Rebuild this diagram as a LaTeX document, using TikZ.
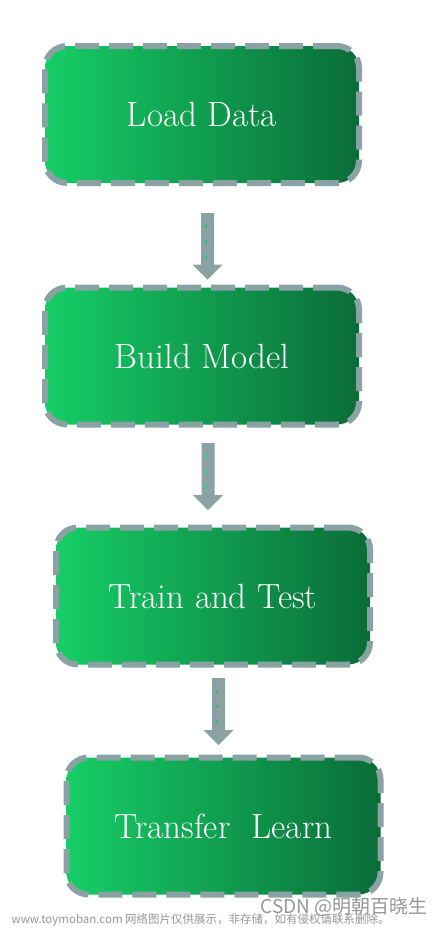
\documentclass[tikz,border=0pt]{standalone}
\usepackage{fontspec}
\newfontfamily\cjk{Noto Sans CJK SC}
\usetikzlibrary{calc}
\definecolor{gl}{RGB}{22,206,102}
\definecolor{gm}{RGB}{19,184,93}
\definecolor{gd}{RGB}{10,108,56}
\definecolor{bord}{RGB}{139,162,164}
\definecolor{wm}{RGB}{150,150,150}
\tikzset{
  stagebox/.style={rectangle, rounded corners=22pt, draw=bord, line width=6pt,
    dash pattern=on 24pt off 10pt, left color=gl, middle color=gm, right color=gd,
    minimum width=314pt, minimum height=137pt, inner sep=0pt, text=white,
    font=\fontsize{35}{40}\selectfont},
  blockarrow/.style={fill=bord},
  arrownotch/.style={draw=gl, line width=1.4pt, dash pattern=on 3pt off 12pt}
}
\newcommand{\downarrowshape}[2]{%
  \path[blockarrow] ($(#1)+(-6.5,0)$) -- ($(#1)+(6.5,0)$) -- ($(#2)+(6.5,15)$) -- ($(#2)+(15,15)$)
    -- (#2) -- ($(#2)+(-15,15)$) -- ($(#2)+(-6.5,15)$) -- cycle;
  \path[arrownotch] ($(#1)+(-1.5,-12)$) -- ($(#2)+(-1.5,14)$);}
\begin{document}
\begin{tikzpicture}[x=1pt,y=1pt]
\useasboundingbox (0,0) rectangle (446,-929);
\node[stagebox] (load) at (202,-114.5) {Load Data};
\node[stagebox] (build) at (202,-356) {Build Model};
\node[stagebox] (train) at (213,-596) {Train and Test};
\node[stagebox] (transfer) at (223.5,-826) {Transfer\ \ Learn};
\coordinate (a1s) at ($(load.south)+(5.5,-27)$);
\coordinate (a1e) at ($(build.north)+(5.5,5)$);
\coordinate (a2s) at ($(build.south)+(6,-15.5)$);
\coordinate (a2e) at ($(train.north)+(-5,14.5)$);
\coordinate (a3s) at ($(train.south)+(5.5,-10.5)$);
\coordinate (a3e) at ($(transfer.north)+(-5,9.5)$);
\downarrowshape{a1s}{a1e}
\downarrowshape{a2s}{a2e}
\downarrowshape{a3s}{a3e}
\node[text=wm, font=\cjk\fontsize{19}{20}\selectfont, anchor=east] (csdn) at (431,-907) {CSDN @明朝百晓生};
\node[text=wm, font=\cjk\fontsize{11.5}{12}\selectfont, anchor=west] (site) at (8,-920) {www.toymoban.com 网络图片仅供展示，非存储，如有侵权请联系删除。};
\end{tikzpicture}
\end{document}
